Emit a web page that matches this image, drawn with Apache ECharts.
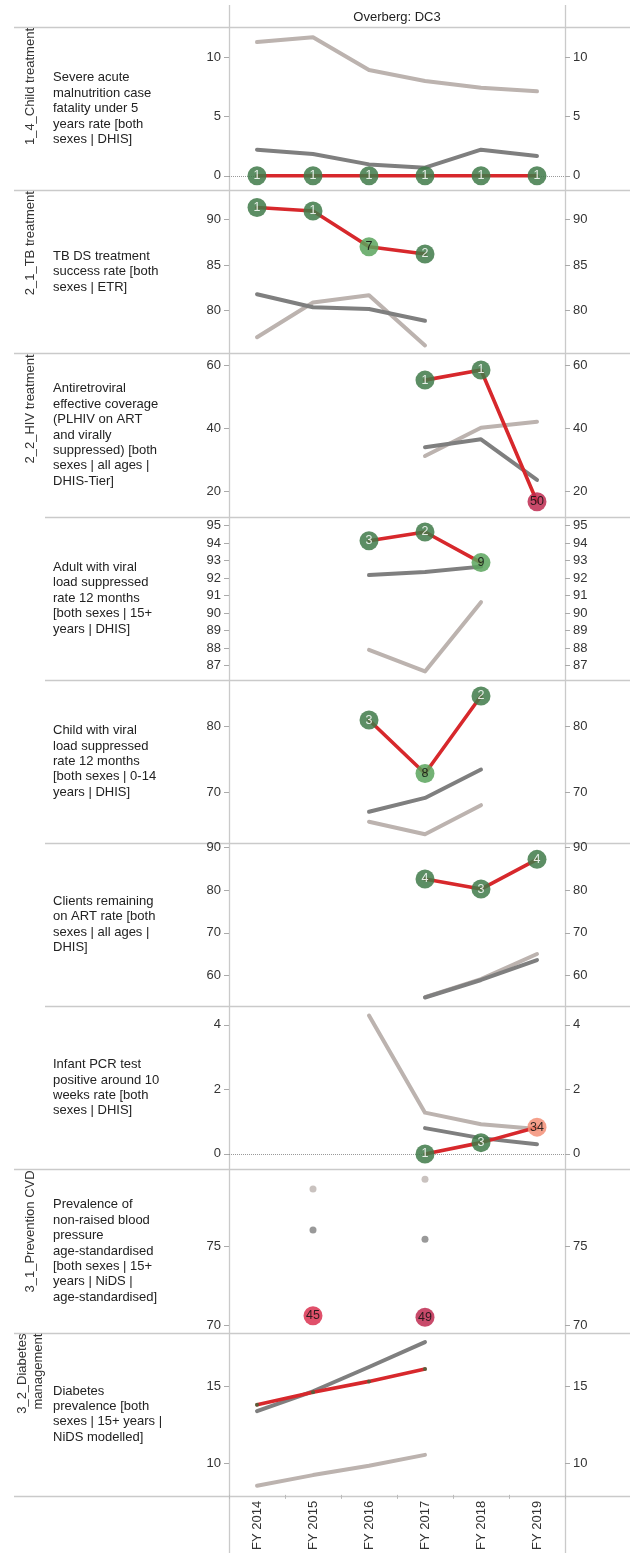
<!DOCTYPE html>
<html><head><meta charset="utf-8">
<script src="https://cdn.jsdelivr.net/npm/echarts@6/dist/echarts.min.js"></script>
<style>html,body{margin:0;padding:0;background:#fff}#c{width:640px;height:1553px}</style>
</head><body><div id="c"></div><script>
// ---------- data ----------
const years = ['FY 2014','FY 2015','FY 2016','FY 2017','FY 2018','FY 2019'];
const chartTitle = 'Overberg: DC3';

const samLight = [11.29, 11.69, 8.93, 8.0, 7.43, 7.13];
const samDark  = [2.2, 1.83, 0.96, 0.68, 2.2, 1.66];
const samRed   = [0, 0, 0, 0, 0, 0];
const samLabels= ['1','1','1','1','1','1'];
const samTones = ['g','g','g','g','g','g'];
const samTicks = [0, 5, 10];

const tbLight  = [77.1, 80.9, 81.7, 76.2, null, null];
const tbDark   = [81.8, 80.37, 80.19, 78.9, null, null];
const tbRed    = [91.28, 90.9, 87.0, 86.2, null, null];
const tbLabels = ['1','1','7','2', null, null];
const tbTones  = ['g','g','lg','g', null, null];
const tbTicks  = [80, 85, 90];

const artLight = [null, null, null, 31.1, 40.1, 42.0];
const artDark  = [null, null, null, 33.9, 36.4, 23.5];
const artRed   = [null, null, null, 55.2, 58.4, 16.6];
const artLabels= [null, null, null, '1', '1', '50'];
const artTones = [null, null, null, 'g', 'g', 'cr'];
const artTicks = [20, 40, 60];

const avlLight = [null, null, 87.9, 86.67, 90.63, null];
const avlDark  = [null, null, 92.18, 92.35, 92.66, null];
const avlRed   = [null, null, 94.14, 94.64, 92.89, null];
const avlLabels= [null, null, '3', '2', '9', null];
const avlTones = [null, null, 'g', 'g', 'lg', null];
const avlTicks = [87, 88, 89, 90, 91, 92, 93, 94, 95];

const cvlLight = [null, null, 65.5, 63.6, 68.0, null];
const cvlDark  = [null, null, 67.0, 69.1, 73.4, null];
const cvlRed   = [null, null, 80.9, 72.8, 84.55, null];
const cvlLabels= [null, null, '3', '8', '2', null];
const cvlTones = [null, null, 'g', 'lg', 'g', null];
const cvlTicks = [70, 80];

const remLight = [null, null, null, 55.0, 59.2, 65.06];
const remDark  = [null, null, null, 54.91, 59.0, 63.66];
const remRed   = [null, null, null, 82.57, 80.23, 87.16];
const remLabels= [null, null, null, '4', '3', '4'];
const remTones = [null, null, null, 'g', 'g', 'g'];
const remTicks = [60, 70, 80, 90];

const pcrLight = [null, null, 4.29, 1.28, 0.92, 0.77];
const pcrDark  = [null, null, null, 0.8, 0.49, 0.3];
const pcrRed   = [null, null, null, 0, 0.35, 0.83];
const pcrLabels= [null, null, null, '1', '3', '34'];
const pcrTones = [null, null, null, 'g', 'g', 'sa'];
const pcrTicks = [0, 2, 4];

const bpLight  = [null, 78.65, null, 79.26, null, null];
const bpDark   = [null, 76.06, null, 75.47, null, null];
const bpRed    = [null, 70.63, null, 70.53, null, null];
const bpLabels = [null, '45', null, '49', null, null];
const bpTones  = [null, 'cr2', null, 'cr', null, null];
const bpTicks  = [70, 75];

const dmLight  = [8.56, 9.25, 9.85, 10.56, null, null];
const dmDark   = [13.39, 14.68, 16.25, 17.86, null, null];
const dmRed    = [13.8, 14.61, 15.32, 16.12, null, null];
const dmLabels = [null, null, null, null, null, null];
const dmTones  = [null, null, null, null, null, null];
const dmTicks  = [10, 15];

const axisMin = [-1.22, 75.33, 11.87, 86.19, 62.27, 52.88, -0.48, 69.56, 7.97];
const axisMax = [12.56, 93.18, 63.68, 95.52, 87.0, 90.98, 4.58, 79.89, 18.48];

const metricNames = [
  'Severe acute\nmalnutrition case\nfatality under 5\nyears rate [both\nsexes | DHIS]',
  'TB DS treatment\nsuccess rate [both\nsexes | ETR]',
  'Antiretroviral\neffective coverage\n(PLHIV on ART\nand virally\nsuppressed) [both\nsexes | all ages |\nDHIS-Tier]',
  'Adult with viral\nload suppressed\nrate 12 months\n[both sexes | 15+\nyears | DHIS]',
  'Child with viral\nload suppressed\nrate 12 months\n[both sexes | 0-14\nyears | DHIS]',
  'Clients remaining\non ART rate [both\nsexes | all ages |\nDHIS]',
  'Infant PCR test\npositive around 10\nweeks rate [both\nsexes | DHIS]',
  'Prevalence of\nnon-raised blood\npressure\nage-standardised\n[both sexes | 15+\nyears | NiDS |\nage-standardised]',
  'Diabetes\nprevalence [both\nsexes | 15+ years |\nNiDS modelled]'
];
const groupNames = ['1_4_Child treatment','2_1_TB treatment','2_2_HIV treatment','3_1_Prevention CVD','3_2_Diabetes\nmanagement'];
const groupStartRow = [0, 1, 2, 7, 8];

// ---------- assemble ----------
const rows = [
  [samLight, samDark, samRed, samLabels, samTones, samTicks],
  [tbLight, tbDark, tbRed, tbLabels, tbTones, tbTicks],
  [artLight, artDark, artRed, artLabels, artTones, artTicks],
  [avlLight, avlDark, avlRed, avlLabels, avlTones, avlTicks],
  [cvlLight, cvlDark, cvlRed, cvlLabels, cvlTones, cvlTicks],
  [remLight, remDark, remRed, remLabels, remTones, remTicks],
  [pcrLight, pcrDark, pcrRed, pcrLabels, pcrTones, pcrTicks],
  [bpLight, bpDark, bpRed, bpLabels, bpTones, bpTicks],
  [dmLight, dmDark, dmRed, dmLabels, dmTones, dmTicks]
];

const FONT = "'Liberation Sans', Arial, Helvetica, sans-serif";
const T0 = 27, H = 163.2, GL = 229, GW = 336, GR = GL + GW;
const LIGHT = '#bcb3af', DARK = '#7f7f7f', RED = '#d7282c', FRAME = '#cacaca';
const toneColor = { g: '#3f7a49', lg: '#5aa55d', cr: '#be2a50', cr2: '#db3150', sa: '#f38f77' };
const toneText  = { g: '#ffffff', lg: '#111111', cr: '#111111', cr2: '#111111', sa: '#111111' };

const grid = [], xAxis = [], yAxis = [], series = [];
const clean = a => a.map(v => (v === null ? '-' : v));

rows.forEach((r, i) => {
  const [light, dark, red, labels, tones, ticks] = r;
  const last = i === rows.length - 1;
  grid.push({ left: GL, top: T0 + i * H, width: GW, height: H, containLabel: false });
  xAxis.push({
    type: 'category', gridIndex: i, data: years, boundaryGap: true,
    axisLine: { show: false }, splitLine: { show: false },
    axisTick: { show: last, length: 4, lineStyle: { color: '#bbbbbb' } },
    axisLabel: { show: last, rotate: 90, interval: 0, margin: 6, fontSize: 13, fontFamily: FONT, color: '#333' }
  });
  ['left', 'right'].forEach(pos => {
    yAxis.push({
      type: 'value', gridIndex: i, position: pos, min: axisMin[i], max: axisMax[i],
      axisLine: { show: false }, splitLine: { show: false },
      axisTick: { show: true, length: 5, customValues: ticks, lineStyle: { color: '#aaaaaa' } },
      axisLabel: { customValues: ticks, margin: 8, fontSize: 13, fontFamily: FONT, color: '#333' }
    });
  });
  const yl = 2 * i;
  const mk = (data, color, width, z) => ({
    type: 'line', xAxisIndex: i, yAxisIndex: yl, data: clean(data), symbol: 'none', showSymbol: false,
    connectNulls: false, silent: true, animation: false, z: z,
    lineStyle: { color: color, width: width, cap: 'round', join: 'round' }
  });
  const isolated = (data) => data.map((v, k) => {
    const prev = k > 0 ? data[k - 1] : null, next = k < data.length - 1 ? data[k + 1] : null;
    return (v !== null && prev === null && next === null) ? [k, v] : null;
  }).filter(Boolean);
  series.push(mk(light, LIGHT, 4, 2));
  series.push(mk(dark, DARK, 4, 3));
  const redSeries = mk(red, RED, 3.6, 4);
  if (axisMin[i] < 0 && axisMax[i] > 0) {
    redSeries.markLine = {
      silent: true, symbol: ['none', 'none'], label: { show: false }, animation: false,
      lineStyle: { type: 'dotted', color: '#999999', width: 1 }, data: [{ yAxis: 0 }], z: 1
    };
  }
  series.push(redSeries);
  [[light, LIGHT], [dark, DARK]].forEach(([d, c]) => {
    const pts = isolated(d);
    if (pts.length) series.push({
      type: 'scatter', xAxisIndex: i, yAxisIndex: yl, data: pts, symbolSize: 7, silent: true,
      animation: false, itemStyle: { color: c }, z: 3
    });
  });
  const circles = [], dots = [];
  red.forEach((v, k) => {
    if (v === null) return;
    if (labels[k] !== null) {
      circles.push({
        value: [k, v],
        itemStyle: { color: toneColor[tones[k]], opacity: 0.85 },
        label: { show: true, formatter: labels[k], color: toneText[tones[k]] }
      });
    } else {
      dots.push([k, v]);
    }
  });
  if (circles.length) series.push({
    type: 'scatter', xAxisIndex: i, yAxisIndex: yl, data: circles, symbolSize: 19, silent: true,
    animation: false, z: 5,
    label: { show: true, position: 'inside', fontSize: 12.5, fontFamily: FONT }
  });
  if (dots.length) series.push({
    type: 'scatter', xAxisIndex: i, yAxisIndex: yl, data: dots, symbolSize: 4, silent: true,
    animation: false, z: 5, itemStyle: { color: '#3c6a3e' }
  });
});

// ---------- frame, titles, labels ----------
const graphic = [];
const hline = (y, x1) => graphic.push({ type: 'line', silent: true, z: 0,
  shape: { x1: x1, y1: y, x2: 630, y2: y }, style: { stroke: FRAME, lineWidth: 1.3 } });
for (let b = 0; b <= rows.length; b++) {
  const y = Math.round(T0 + b * H) + 0.5;
  const startsGroup = b === rows.length || groupStartRow.indexOf(b) >= 0;
  hline(y, startsGroup ? 14 : 45);
}
[GL, GR].forEach(x => graphic.push({ type: 'line', silent: true, z: 0,
  shape: { x1: x + 0.5, y1: 5, x2: x + 0.5, y2: 1553 }, style: { stroke: FRAME, lineWidth: 1.3 } }));
graphic.push({ type: 'text', x: (GL + GR) / 2, y: 17, silent: true,
  style: { text: chartTitle, fill: '#222', fontSize: 13, fontFamily: FONT,
    align: 'center', verticalAlign: 'middle', textAlign: 'center', textVerticalAlign: 'middle' } });
metricNames.forEach((t, i) => graphic.push({ type: 'text', x: 53, y: T0 + i * H + H / 2, silent: true,
  style: { text: t, fill: '#222', fontSize: 13, fontFamily: FONT, lineHeight: 15.4,
    align: 'left', verticalAlign: 'middle', textAlign: 'left', textVerticalAlign: 'middle' } }));
groupNames.forEach((g, gi) => graphic.push({ type: 'text', x: 30.5, y: T0 + groupStartRow[gi] * H + 1,
  rotation: Math.PI / 2, silent: true,
  style: { text: g, fill: '#333', fontSize: 13, fontFamily: FONT, lineHeight: 16,
    align: 'right', verticalAlign: 'middle', textAlign: 'right', textVerticalAlign: 'middle' } }));

const chart = echarts.init(document.getElementById('c'));
chart.setOption({ animation: false, backgroundColor: '#fff', grid, xAxis, yAxis, series, graphic });
</script></body></html>
